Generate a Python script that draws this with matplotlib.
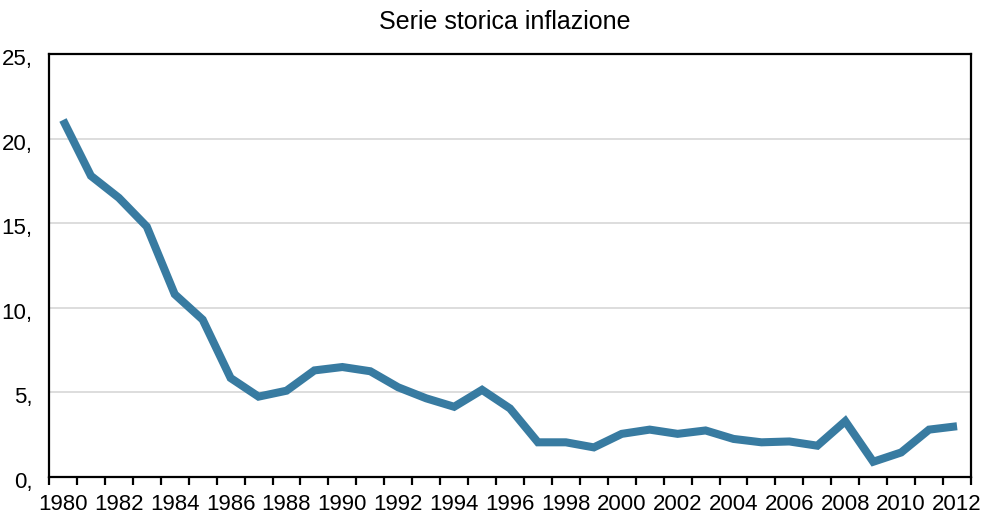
import matplotlib.pyplot as plt
import matplotlib.transforms as mtransforms
import numpy as np

years = list(range(1980, 2013))
inflazione = [21.1, 17.8, 16.5, 14.8, 10.8, 9.3, 5.85, 4.75, 5.1, 6.3,
              6.5, 6.25, 5.3, 4.65, 4.15, 5.15, 4.05, 2.05, 2.05, 1.75,
              2.55, 2.8, 2.55, 2.75, 2.25, 2.05, 2.1, 1.85, 3.3, 0.9,
              1.45, 2.8, 3.0]
y_ticks = [0, 5, 10, 15, 20, 25]
title = "Serie storica inflazione"

plt.rcParams["font.family"] = ["Liberation Sans", "DejaVu Sans"]

fig = plt.figure(figsize=(9.97, 5.22), dpi=100)
ax = fig.add_axes([49 / 997, 45 / 522, 922 / 997, 423 / 522])

ax.plot(years, inflazione, color="#387ba1", lw=5.8, solid_joinstyle="miter",
        solid_capstyle="butt", zorder=3)

ax.set_xlim(years[0] - 0.5, years[-1] + 0.5)
ax.set_ylim(0, 25)

ax.set_yticks(y_ticks)
ax.set_yticklabels([f"{v}," for v in y_ticks], fontsize=16)
ax.tick_params(axis="y", length=0, pad=12)
# labels sit a little below their gridline
shift = mtransforms.ScaledTranslation(0, -3 / 100, fig.dpi_scale_trans)
for lbl in ax.get_yticklabels():
    lbl.set_transform(lbl.get_transform() + shift)
for v in y_ticks[1:-1]:
    ax.axhline(v, color="#dadada", lw=1.3, zorder=1)

ax.set_xticks(years[::2])
ax.set_xticklabels([str(y) for y in years[::2]], fontsize=16)
ax.set_xticks(np.arange(years[0] - 0.5, years[-1] + 1), minor=True)
ax.tick_params(axis="x", which="major", length=0, pad=12)
ax.tick_params(axis="x", which="minor", length=6, width=1.6, direction="out")

for s in ax.spines.values():
    s.set_linewidth(1.6)
    s.set_color("black")

fig.suptitle(title, fontsize=18, x=505 / 997, y=1 - 22 / 522, va="center")

fig.savefig("out.png", dpi=100)
